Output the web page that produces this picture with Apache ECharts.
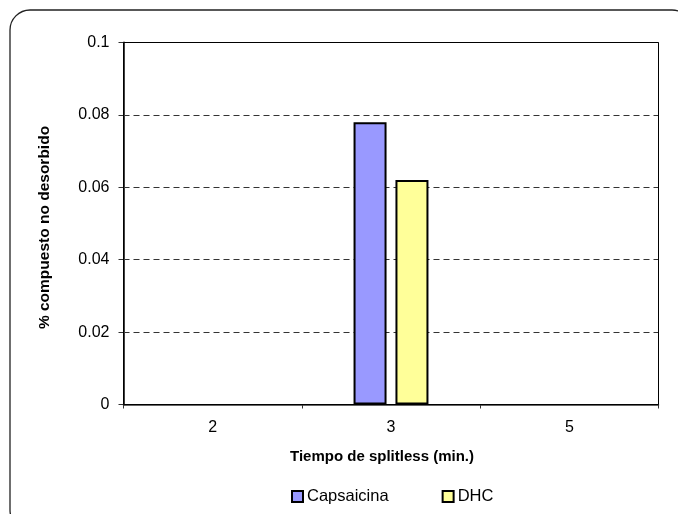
<!DOCTYPE html>
<html>
<head>
<meta charset="utf-8">
<script src="https://cdn.jsdelivr.net/npm/echarts@6/dist/echarts.min.js"></script>
<style>
  html, body { margin: 0; padding: 0; background: #fff; }
  #chart { width: 678px; height: 514px; }
</style>
</head>
<body>
<div id="chart"></div>
<script>
// Split-less time categories (minutes)
const categories = ['2', '3', '5'];
// Percentage of compound not desorbed
const capsaicina = [null, 0.078, null];
const dhc = [null, 0.062, null];
// Y axis scale
const yMin = 0;
const yMax = 0.1;
const yStep = 0.02;

const font = '"Liberation Sans", Arial, sans-serif';
const chart = echarts.init(document.getElementById('chart'), null, { renderer: 'canvas' });

chart.setOption({
  animation: false,
  backgroundColor: '#ffffff',
  textStyle: { fontFamily: font },
  graphic: [
    {
      type: 'rect',
      shape: { x: 10, y: 10, width: 682, height: 520, r: 20 },
      style: { fill: 'none', stroke: '#222', lineWidth: 1.3 },
      silent: true, z: -1
    },
    {
      // plot area frame
      type: 'rect',
      shape: { x: 123.5, y: 42.5, width: 535, height: 362 },
      style: { fill: 'none', stroke: '#000', lineWidth: 1 },
      silent: true, z: 1
    }
  ],
  grid: { left: 123.5, right: 19.5, top: 42.5, bottom: 109.5, containLabel: false },
  legend: {
    top: 483,
    left: 286,
    itemWidth: 11, itemHeight: 11,
    itemGap: 53,
    icon: 'rect',
    textStyle: { fontFamily: font, fontSize: 16.5, color: '#000', padding: [0, 0, 0, -1] },
    itemStyle: { borderColor: '#000', borderWidth: 2 },
    data: ['Capsaicina', 'DHC']
  },
  xAxis: {
    type: 'category',
    data: categories,
    name: 'Tiempo de splitless (min.)',
    nameLocation: 'middle',
    nameGap: 45,
    nameTextStyle: { fontFamily: font, fontSize: 15, fontWeight: 'bold', color: '#000', padding: [0, 18, 0, 0] },
    axisLine: { lineStyle: { color: '#333', width: 1.5 } },
    axisTick: { show: true, inside: false, length: 4, alignWithLabel: false, lineStyle: { color: '#333' } },
    axisLabel: { fontFamily: font, fontSize: 16, color: '#000', margin: 15 },
    splitLine: { show: false }
  },
  yAxis: {
    type: 'value',
    min: yMin, max: yMax, interval: yStep,
    name: '% compuesto no desorbido',
    nameLocation: 'middle',
    nameGap: 71,
    nameRotate: 90,
    nameTextStyle: { fontFamily: font, fontSize: 15.5, fontWeight: 'bold', color: '#000', padding: [0, 8, 0, 0] },
    axisLine: { show: true, lineStyle: { color: '#404040', width: 2 } },
    axisTick: { show: true, inside: false, length: 5, lineStyle: { color: '#333' } },
    axisLabel: { fontFamily: font, fontSize: 16, color: '#000', margin: 14 },
    splitLine: { show: true, lineStyle: { color: '#333', type: [6, 4], width: 1 } }
  },
  series: [
    {
      name: 'Capsaicina',
      type: 'bar',
      data: capsaicina,
      barWidth: 33,
      barGap: '27%',
      itemStyle: { color: '#9999FF', borderColor: '#000', borderWidth: 2 }
    },
    {
      name: 'DHC',
      type: 'bar',
      data: dhc,
      barWidth: 33,
      itemStyle: { color: '#FFFF99', borderColor: '#000', borderWidth: 2 }
    }
  ]
});
</script>
</body>
</html>
